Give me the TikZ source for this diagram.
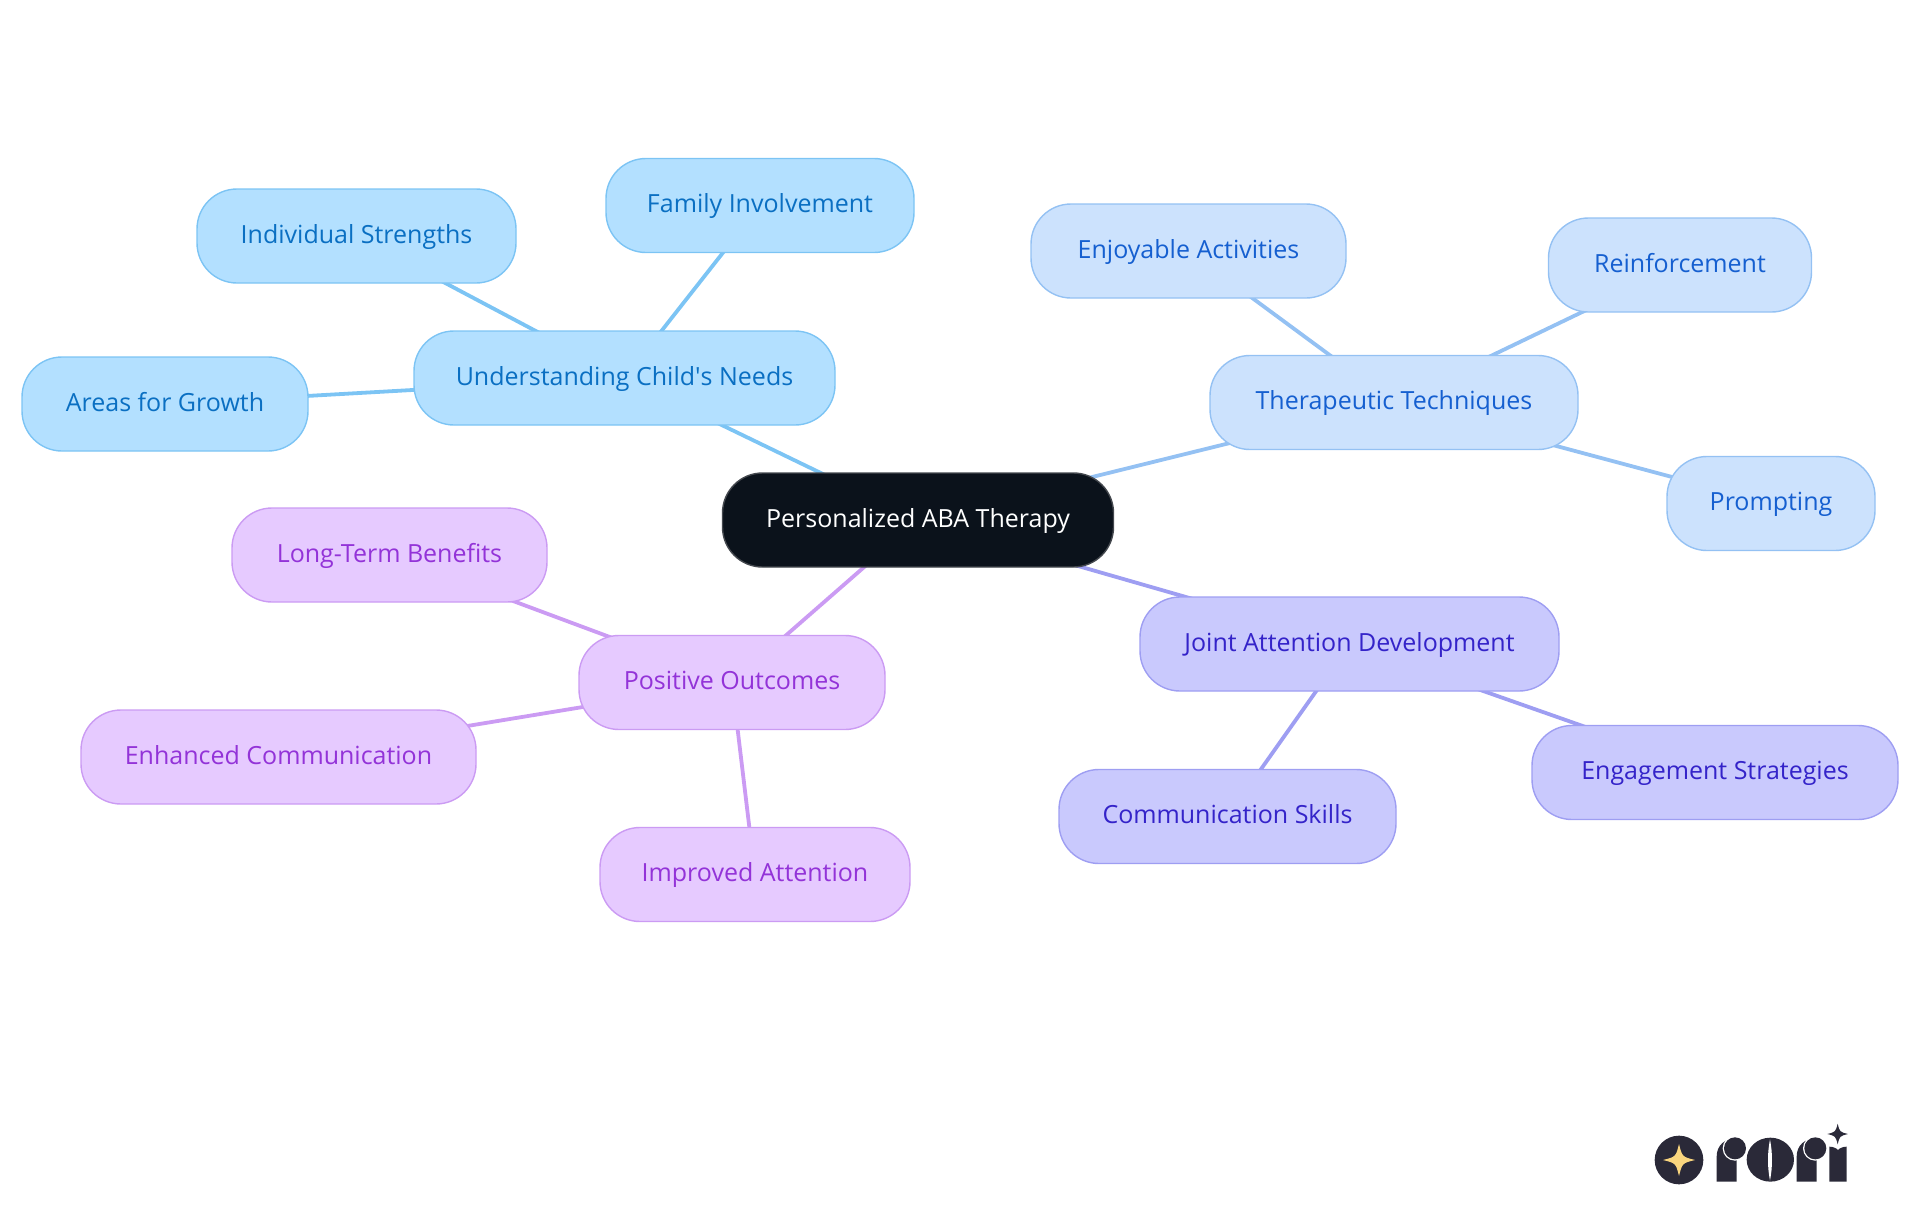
\documentclass[tikz,border=0pt]{standalone}
\usepackage{fontspec}
\setmainfont{Open Sans}
\usetikzlibrary{backgrounds}
\definecolor{rootfill}{HTML}{0B121B}
\definecolor{rootline}{HTML}{44484E}
\definecolor{needsfill}{HTML}{B3E0FF}
\definecolor{needsline}{HTML}{7CC4F4}
\definecolor{needstext}{HTML}{0A6FC2}
\definecolor{techfill}{HTML}{CCE2FD}
\definecolor{techline}{HTML}{94C1F3}
\definecolor{techtext}{HTML}{155FD0}
\definecolor{jointfill}{HTML}{C9C9FD}
\definecolor{jointline}{HTML}{9E9EF2}
\definecolor{jointtext}{HTML}{3423C9}
\definecolor{outfill}{HTML}{E6CAFF}
\definecolor{outline}{HTML}{CB9BF3}
\definecolor{outtext}{HTML}{9333D8}
\definecolor{logodark}{HTML}{2A2938}
\definecolor{logogold}{HTML}{F9D57E}
\newcommand{\sparkle}[3]{(#1+#3,#2) .. controls (#1+#3*0.2,#2+#3*0.2) .. (#1,#2+#3) .. controls (#1-#3*0.2,#2+#3*0.2) .. (#1-#3,#2) .. controls (#1-#3*0.2,#2-#3*0.2) .. (#1,#2-#3) .. controls (#1+#3*0.2,#2-#3*0.2) .. cycle}
\begin{document}
\begin{tikzpicture}[x=1pt,y=-1pt,
	main/.style = {draw, line width=1.4pt, rounded corners=40pt, minimum height=94pt, inner sep=0pt,
		text height=20pt, text depth=5.5pt, font=\fontsize{25pt}{28pt}\selectfont},
	rootnode/.style = {main, fill=rootfill, draw=rootline, text=white},
	needs/.style = {main, fill=needsfill, draw=needsline, text=needstext},
	tech/.style = {main, fill=techfill, draw=techline, text=techtext},
	joint/.style = {main, fill=jointfill, draw=jointline, text=jointtext},
	outcome/.style = {main, fill=outfill, draw=outline, text=outtext},
	link/.style = {line width=3.8pt}]
			\useasboundingbox (0,0) rectangle (1920,1215);
			\node[rootnode, minimum width=391pt] (root) at (918,520) {Personalized ABA Therapy};

			\node[needs, minimum width=421pt] (childneeds) at (624.5,378) {Understanding Child\textquotesingle{}s Needs};
			\node[needs, minimum width=308pt] (family) at (760,205.5) {Family Involvement};
			\node[needs, minimum width=319pt] (strengths) at (356.5,236) {Individual Strengths};
			\node[needs, minimum width=286pt] (growth) at (165,404) {Areas for Growth};

			\node[tech, minimum width=368pt] (techniques) at (1394,402.5) {Therapeutic Techniques};
			\node[tech, minimum width=315pt] (activities) at (1188.5,251) {Enjoyable Activities};
			\node[tech, minimum width=263pt] (reinforce) at (1680,265) {Reinforcement};
			\node[tech, minimum width=208pt] (prompting) at (1771,503.5) {Prompting};

			\node[joint, minimum width=419pt] (attention) at (1349.5,644) {Joint Attention Development};
			\node[joint, minimum width=366pt] (strategies) at (1715,772.5) {Engagement Strategies};
			\node[joint, minimum width=337pt] (commskills) at (1227.5,816.5) {Communication Skills};

			\node[outcome, minimum width=306pt] (outcomes) at (732,682.5) {Positive Outcomes};
			\node[outcome, minimum width=315pt] (longterm) at (389.5,555) {Long-Term Benefits};
			\node[outcome, minimum width=395pt] (enhanced) at (278.5,757) {Enhanced Communication};
			\node[outcome, minimum width=310pt] (improved) at (755,874.5) {Improved Attention};

			\begin{pgfonlayer}{background}
				\draw[link, needsline] (root.center)--(childneeds.center);
				\draw[link, needsline] (childneeds.center)--(family.center);
				\draw[link, needsline] (childneeds.center)--(strengths.center);
				\draw[link, needsline] (childneeds.center)--(growth.center);

				\draw[link, techline] (root.center)--(techniques.center);
				\draw[link, techline] (techniques.center)--(activities.center);
				\draw[link, techline] (techniques.center)--(reinforce.center);
				\draw[link, techline] (techniques.center)--(prompting.center);

				\draw[link, jointline] (root.center)--(attention.center);
				\draw[link, jointline] (attention.center)--(strategies.center);
				\draw[link, jointline] (attention.center)--(commskills.center);

				\draw[link, outline] (root.center)--(outcomes.center);
				\draw[link, outline] (outcomes.center)--(longterm.center);
				\draw[link, outline] (outcomes.center)--(enhanced.center);
				\draw[link, outline] (outcomes.center)--(improved.center);
			\end{pgfonlayer}

			% logo
			\begin{scope}[shift={(1620,1100)},x=0.3333pt,y=-0.3333pt]
				\fill[logodark] (177,180) circle [radius=73];
				\fill[logogold] \sparkle{177}{180}{48};
				% first r
				\fill[logodark] (290,245) -- (290,170) .. controls (290,135) and (315,115) .. (350,115) -- (350,245) -- cycle;
				\fill[white] (345,145) circle [radius=37];
				\fill[logodark] (345,145) circle [radius=33];
				% o
				\fill[logodark] (451,179) ellipse [x radius=71, y radius=66];
				\fill[white] (450,118) .. controls (442,160) and (442,200) .. (450,242) .. controls (458,200) and (458,160) .. cycle;
				% second r
				\fill[logodark] (530,245) -- (530,170) .. controls (530,135) and (555,115) .. (590,115) -- (590,245) -- cycle;
				\fill[white] (586,145) circle [radius=37];
				\fill[logodark] (586,145) circle [radius=33];
				% i
				\fill[logodark] (628,245) -- (628,140) .. controls (640,140) and (650,145) .. (654,150) .. controls (658,145) and (668,140) .. (680,140) -- (680,245) -- cycle;
				\fill[logodark] \sparkle{653}{102}{31};
			\end{scope}
			\end{tikzpicture}
\end{document}
